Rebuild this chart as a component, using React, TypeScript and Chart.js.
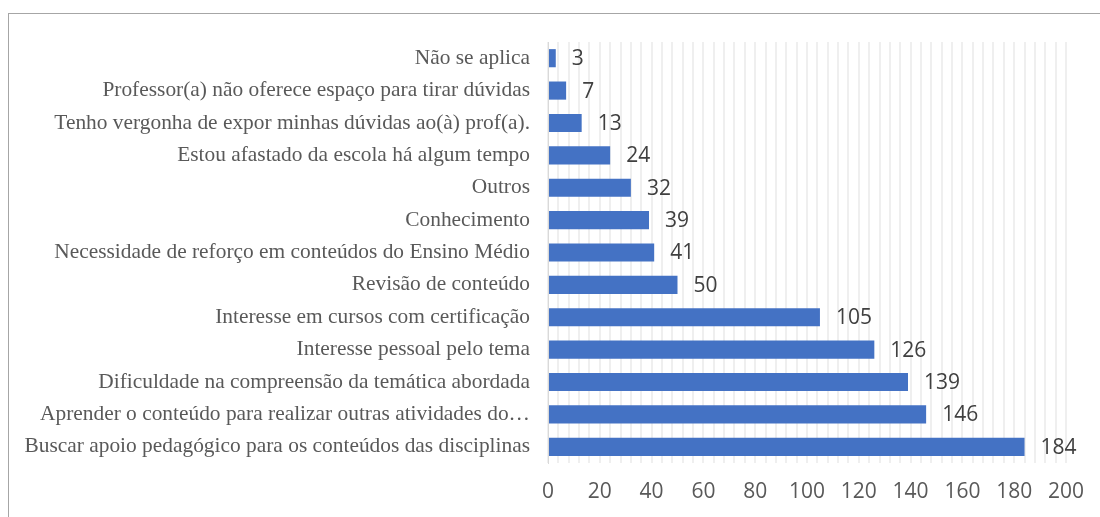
import React, { useEffect, useRef } from "react";
import { Chart, registerables } from "chart.js";

Chart.register(...registerables);

const categories = [
  "Não se aplica",
  "Professor(a) não oferece espaço para tirar dúvidas",
  "Tenho vergonha de expor minhas dúvidas ao(à) prof(a).",
  "Estou afastado da escola há algum tempo",
  "Outros",
  "Conhecimento",
  "Necessidade de reforço em conteúdos do Ensino Médio",
  "Revisão de conteúdo",
  "Interesse em cursos com certificação",
  "Interesse pessoal pelo tema",
  "Dificuldade na compreensão da temática abordada",
  "Aprender o conteúdo para realizar outras atividades do…",
  "Buscar apoio pedagógico para os conteúdos das disciplinas",
];

const values = [3, 7, 13, 24, 32, 39, 41, 50, 105, 126, 139, 146, 184];

const xTickLabels = ["0", "20", "40", "60", "80", "100", "120", "140", "160", "180", "200"];

const NUM_FONT = "'Open Sans', 'Liberation Sans', sans-serif";
const CAT_FONT = "'Liberation Serif', 'Times New Roman', serif";

const dataLabelPlugin = {
  id: "dataLabels",
  afterDatasetsDraw(chart: any) {
    const ctx = chart.ctx;
    const meta = chart.getDatasetMeta(0);
    ctx.save();
    ctx.font = `21px ${NUM_FONT}`;
    ctx.fillStyle = "#404040";
    ctx.textAlign = "left";
    ctx.textBaseline = "middle";
    meta.data.forEach((bar: any, i: number) => {
      ctx.fillText(String(values[i]), bar.x + 16, bar.y + 1);
    });
    ctx.restore();
  },
};

export default function App() {
  const canvasRef = useRef<HTMLCanvasElement | null>(null);

  useEffect(() => {
    if (!canvasRef.current) return;
    const chart = new Chart(canvasRef.current, {
      type: "bar",
      data: {
        labels: categories,
        datasets: [
          {
            data: values,
            backgroundColor: "#4472C4",
            borderWidth: 0,
            barPercentage: 0.56,
            categoryPercentage: 1,
          },
        ],
      },
      options: {
        indexAxis: "y",
        responsive: false,
        animation: false,
        layout: { padding: { top: 42, right: 32, bottom: 0, left: 0 } },
        plugins: {
          legend: { display: false },
          tooltip: { enabled: false },
        },
        scales: {
          x: {
            min: 0,
            max: 200,
            afterBuildTicks(scale: any) {
              const t = [];
              for (let v = 0; v <= 200; v += 4) t.push({ value: v });
              scale.ticks = t;
            },
            afterFit(scale: any) {
              scale.height = 54;
            },
            grid: {
              color: "#efefef",
              lineWidth: 2,
              drawTicks: false,
            },
            border: { display: false },
            ticks: {
              autoSkip: false,
              maxRotation: 0,
              padding: 16,
              color: "#595959",
              font: { family: NUM_FONT, size: 21 },
              callback(value: any) {
                const v = Number(value);
                return v % 20 === 0 ? xTickLabels[v / 20] : "";
              },
            },
          },
          y: {
            afterFit(scale: any) {
              scale.width = 548;
            },
            grid: { display: false, drawTicks: false },
            border: { display: true, color: "#d9d9d9", width: 1 },
            ticks: {
              padding: 18,
              color: "#595959",
              font: { family: CAT_FONT, size: 21.4 },
            },
          },
        },
      },
      plugins: [dataLabelPlugin],
    });
    return () => chart.destroy();
  }, []);

  return (
    <div
      style={{
        position: "fixed",
        left: 0,
        top: 0,
        width: 1100,
        height: 517,
        overflow: "hidden",
        background: "#ffffff",
      }}
    >
      <canvas
        ref={canvasRef}
        width={1100}
        height={517}
        style={{ position: "absolute", left: 0, top: 0, width: 1100, height: 517 }}
      />
      <div
        style={{
          position: "absolute",
          left: 8,
          top: 13,
          width: 1200,
          height: 600,
          borderLeft: "1.5px solid #a6a6a6",
          borderTop: "1.5px solid #a6a6a6",
          pointerEvents: "none",
        }}
      />
    </div>
  );
}
